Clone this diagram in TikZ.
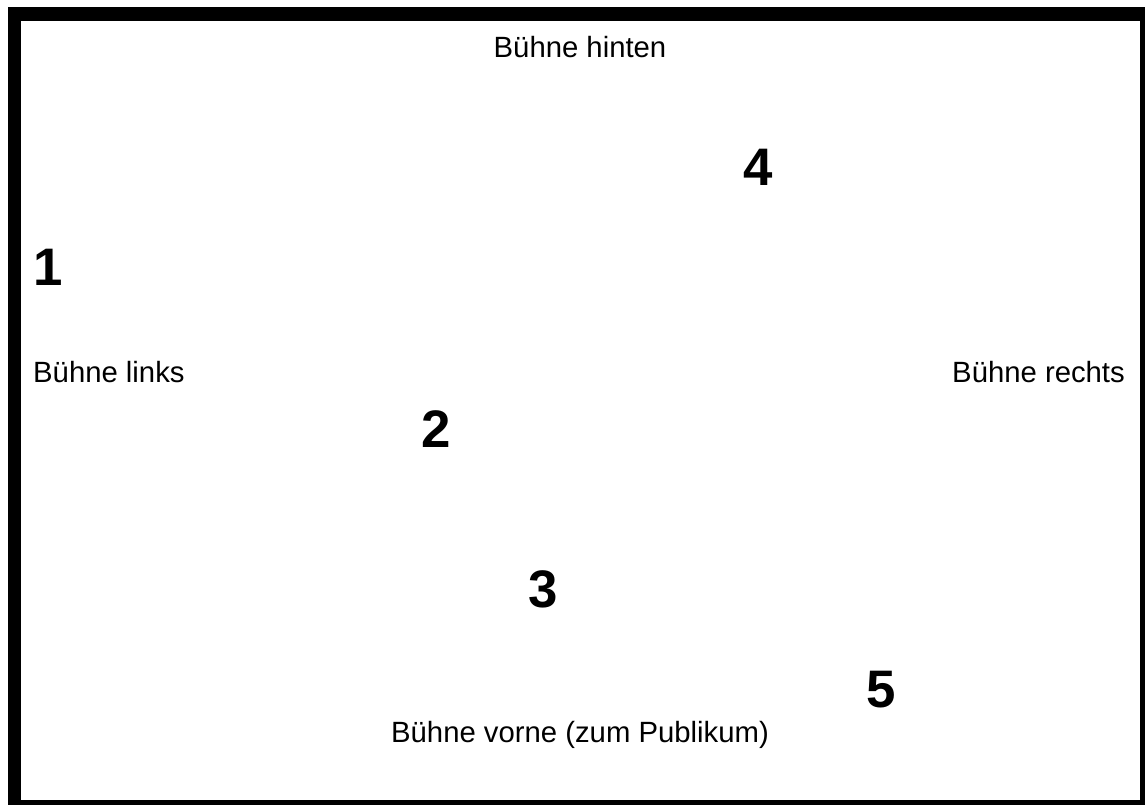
\documentclass[tikz,border=0pt]{standalone}
\usepackage{fontspec}
\setmainfont{Liberation Sans}
\usetikzlibrary{positioning}

\begin{document}
\begin{tikzpicture}[x=1bp,y=-1bp,
    beschrift/.style={inner sep=0pt,font=\fontsize{29.4}{35}\selectfont},
    nummer/.style={inner sep=0pt,font=\fontsize{53}{62}\selectfont\bfseries}]
	\useasboundingbox (0,0) rectangle (1145,805);
	% Rahmen der Buehne
	\fill [black] (8,7) rectangle (1145,805);
	\fill [white] (21,21) rectangle (1140,800);
	% Seiten
	\node [beschrift,anchor=base] (hinten) at (580,58) {Bühne hinten};
	\node [beschrift,anchor=base west] (links) at (33,382) {Bühne links};
	\node [beschrift,anchor=base east] (rechts) at (1125,382) {Bühne rechts};
	\node [beschrift,anchor=base] (vorne) at (580,742) {Bühne vorne (zum Publikum)};
	% Positionen
	\node [nummer,anchor=base] (p1) at (48,285) {1};
	\node [nummer,anchor=base] (p2) at (436,447) {2};
	\node [nummer,anchor=base] (p3) at (543,607) {3};
	\node [nummer,anchor=base] (p4) at (758,185) {4};
	\node [nummer,anchor=base] (p5) at (881,707) {5};
\end{tikzpicture}
\end{document}
